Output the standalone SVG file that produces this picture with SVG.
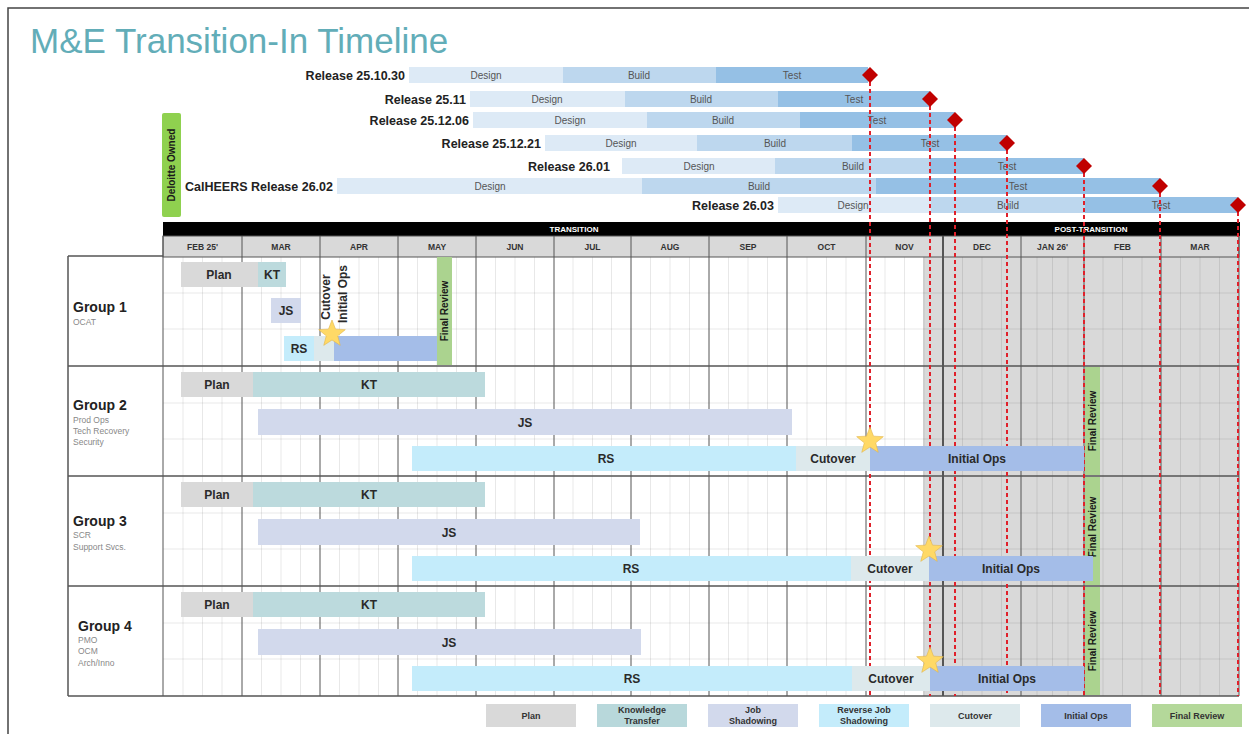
<svg xmlns="http://www.w3.org/2000/svg" width="1249" height="734" viewBox="0 0 1249 734">
<style>
.t{font-family:"Liberation Sans",Arial,sans-serif}
.rl{font-family:"Liberation Sans",Arial,sans-serif;font-size:12.5px;font-weight:bold;fill:#222;text-anchor:end}
.ph{font-family:"Liberation Sans",Arial,sans-serif;font-size:10px;fill:#555;text-anchor:middle}
.mo{font-family:"Liberation Sans",Arial,sans-serif;font-size:8.5px;font-weight:bold;fill:#333;text-anchor:middle}
.bl{font-family:"Liberation Sans",Arial,sans-serif;font-size:12px;font-weight:bold;fill:#2a2a2a;text-anchor:middle}
.vt{font-family:"Liberation Sans",Arial,sans-serif;font-size:10px;font-weight:bold;fill:#1a1a1a;text-anchor:middle}
.gt{font-family:"Liberation Sans",Arial,sans-serif;font-size:14px;font-weight:bold;fill:#222}
.gs{font-family:"Liberation Sans",Arial,sans-serif;font-size:8.5px;fill:#888}
.lg{font-family:"Liberation Sans",Arial,sans-serif;font-size:9px;font-weight:bold;fill:#333;text-anchor:middle}
.d{fill:#ddeaf6}.b{fill:#bdd7ee}.ts{fill:#95c0e5}
.plan{fill:#d9d9d9}.kt{fill:#bcdadd}.js{fill:#d2d9ec}.rs{fill:#c4ecfb}.cut{fill:#dde9ec}.io{fill:#a4bde8}.fr{fill:#abd38f}
.dia{fill:#c00000}
.red{stroke:#e0202a;stroke-width:2;stroke-dasharray:4 3;fill:none}
.sub{stroke:#000;stroke-opacity:0.09;stroke-width:1}
.mline{stroke:#555;stroke-width:1}
.star{fill:#ffd966;stroke:#e3b54a;stroke-width:0.6}
</style>
<defs>
<polygon id="star" points="0,-14 3.53,-4.85 13.32,-4.33 5.71,1.85 8.23,11.33 0,6 -8.23,11.33 -5.71,1.85 -13.32,-4.33 -3.53,-4.85"/>
</defs>
<rect width="1249" height="734" fill="#fff"/>
<path d="M8,734 V8 H1249" fill="none" stroke="#444" stroke-width="1.5"/>
<text x="30" y="53" class="t" font-size="35" fill="#62adb8">M&amp;E Transition-In Timeline</text>

<g id="deloitte-owned">
<rect x="162" y="113" width="19" height="104" rx="2" fill="#8fd14f"/>
<text class="vt" font-size="9" transform="translate(171.5,165) rotate(-90)" dy=".35em">Deloitte Owned</text>
</g>

<g id="releases">
<g id="r1"><text class="rl" x="405" y="79.5">Release 25.10.30</text>
<rect class="d" x="409" y="67" width="154" height="16"/><rect class="b" x="563" y="67" width="153" height="16"/><rect class="ts" x="716" y="67" width="152" height="16"/>
<text class="ph" x="486" y="79">Design</text><text class="ph" x="639" y="79">Build</text><text class="ph" x="792" y="79">Test</text></g>
<g id="r2"><text class="rl" x="466" y="103.5">Release 25.11</text>
<rect class="d" x="470" y="91" width="155" height="16"/><rect class="b" x="625" y="91" width="153" height="16"/><rect class="ts" x="778" y="91" width="152" height="16"/>
<text class="ph" x="547" y="103">Design</text><text class="ph" x="701" y="103">Build</text><text class="ph" x="854" y="103">Test</text></g>
<g id="r3"><text class="rl" x="469" y="124.5">Release 25.12.06</text>
<rect class="d" x="473" y="112" width="174" height="16"/><rect class="b" x="647" y="112" width="153" height="16"/><rect class="ts" x="800" y="112" width="155" height="16"/>
<text class="ph" x="570" y="124">Design</text><text class="ph" x="723" y="124">Build</text><text class="ph" x="877" y="124">Test</text></g>
<g id="r4"><text class="rl" x="541" y="147.5">Release 25.12.21</text>
<rect class="d" x="545" y="135" width="152" height="16"/><rect class="b" x="697" y="135" width="155" height="16"/><rect class="ts" x="852" y="135" width="155" height="16"/>
<text class="ph" x="621" y="147">Design</text><text class="ph" x="775" y="147">Build</text><text class="ph" x="930" y="147">Test</text></g>
<g id="r5"><text class="rl" x="610" y="170.5">Release 26.01</text>
<rect class="d" x="622" y="158" width="153" height="16"/><rect class="b" x="775" y="158" width="155" height="16"/><rect class="ts" x="930" y="158" width="154" height="16"/>
<text class="ph" x="699" y="170">Design</text><text class="ph" x="853" y="170">Build</text><text class="ph" x="1007" y="170">Test</text></g>
<g id="r6"><text class="rl" x="333" y="190.5">CalHEERS Release 26.02</text>
<rect class="d" x="337" y="178" width="305" height="16"/><rect class="b" x="642" y="178" width="234" height="16"/><rect class="ts" x="876" y="178" width="284" height="16"/>
<text class="ph" x="490" y="190">Design</text><text class="ph" x="759" y="190">Build</text><text class="ph" x="1018" y="190">Test</text></g>
<g id="r7"><text class="rl" x="774" y="209.5">Release 26.03</text>
<rect class="d" x="778" y="197" width="153" height="16"/><rect class="b" x="931" y="197" width="154" height="16"/><rect class="ts" x="1085" y="197" width="153" height="16"/>
<text class="ph" x="853" y="209">Design</text><text class="ph" x="1008" y="209">Build</text><text class="ph" x="1161" y="209">Test</text></g>
</g>

<g id="grid">
<rect x="923" y="257" width="316" height="439" fill="#d9d9d9"/>
<g class="sub">
<path d="M183,257V696M202.5,257V696M222,257V696M261.5,257V696M281,257V696M300.5,257V696M339.5,257V696M359,257V696M378.5,257V696M417.5,257V696M437,257V696M456.5,257V696M495.5,257V696M515,257V696M534.5,257V696M573,257V696M592.5,257V696M611.5,257V696M650.5,257V696M670,257V696M689.5,257V696M728.5,257V696M748,257V696M767.5,257V696M807,257V696M826.5,257V696M846,257V696M885,257V696M904.5,257V696M924,257V696M962.5,257V696M982,257V696M1001.5,257V696M1037,257V696M1052.5,257V696M1068,257V696M1103,257V696M1122.5,257V696M1142,257V696M1180.5,257V696M1200,257V696M1219.5,257V696"/>
<path d="M163,293H1239M163,329H1239M163,403H1239M163,439H1239M163,513H1239M163,549H1239M163,623H1239M163,659H1239"/>
</g>
<rect x="163" y="222" width="1077" height="14" fill="#000"/>
<text x="574" y="232" class="t" font-size="8" font-weight="bold" fill="#fff" text-anchor="middle">TRANSITION</text>
<text x="1091" y="232" class="t" font-size="8" font-weight="bold" fill="#fff" text-anchor="middle">POST-TRANSITION</text>
<rect x="163" y="236" width="1076" height="21" fill="#d9d9d9" stroke="#555"/>
<g class="mline">
<path d="M242,236V696M320,236V696M398,236V696M476,236V696M554,236V696M631,236V696M709,236V696M787,236V696M866,236V696M1021,236V696M1084,236V696M1161,236V696M1239,236V696M163,236V696"/>
</g>
<path d="M943,236V696" stroke="#555" stroke-width="2"/>
<path d="M68,256V696M68,256H163M68,366H1239M68,476H1239M68,586H1239M68,696H1239" stroke="#555" stroke-width="1.5" fill="none"/>
<text class="mo" x="202.5" y="250">FEB 25'</text><text class="mo" x="281" y="250">MAR</text><text class="mo" x="359" y="250">APR</text><text class="mo" x="437" y="250">MAY</text><text class="mo" x="515" y="250">JUN</text><text class="mo" x="592.5" y="250">JUL</text><text class="mo" x="670" y="250">AUG</text><text class="mo" x="748" y="250">SEP</text><text class="mo" x="826.5" y="250">OCT</text><text class="mo" x="904.5" y="250">NOV</text><text class="mo" x="982" y="250">DEC</text><text class="mo" x="1052.5" y="250">JAN 26'</text><text class="mo" x="1122.5" y="250">FEB</text><text class="mo" x="1200" y="250">MAR</text>
</g>

<g id="connectors">
<path class="red" d="M870,75V696"/><path class="red" d="M930,99V696"/><path class="red" d="M955,120V696"/><path class="red" d="M1007,143V696"/><path class="red" d="M1084,166V696"/><path class="red" d="M1160,186V696"/><path class="red" d="M1238,205V696"/>
<polygon class="dia" points="870,67 878,75 870,83 862,75"/>
<polygon class="dia" points="930,91 938,99 930,107 922,99"/>
<polygon class="dia" points="955,112 963,120 955,128 947,120"/>
<polygon class="dia" points="1007,135 1015,143 1007,151 999,143"/>
<polygon class="dia" points="1084,158 1092,166 1084,174 1076,166"/>
<polygon class="dia" points="1160,178 1168,186 1160,194 1152,186"/>
<polygon class="dia" points="1238,197 1246,205 1238,213 1230,205"/>
</g>

<g id="group1">
<text class="gt" x="73" y="312">Group 1</text>
<text class="gs" x="73" y="325">OCAT</text>
<rect class="plan" x="181" y="262" width="77" height="25"/><text class="bl" x="219" y="279">Plan</text>
<rect class="kt" x="258" y="262" width="28" height="25"/><text class="bl" x="272" y="279">KT</text>
<rect class="js" x="271" y="298" width="30" height="25"/><text class="bl" x="286" y="315">JS</text>
<rect class="rs" x="284" y="336" width="30" height="25"/><text class="bl" x="299" y="353">RS</text>
<rect class="cut" x="314" y="336" width="20" height="25"/>
<rect class="io" x="334" y="336" width="103" height="25"/>
<text class="bl" transform="translate(326,297) rotate(-90)" dy=".35em">Cutover</text>
<text class="bl" transform="translate(343,294) rotate(-90)" dy=".35em">Initial Ops</text>
<rect class="fr" x="437" y="257" width="15" height="108"/>
<text class="vt" transform="translate(444.5,311) rotate(-90)" dy=".35em">Final Review</text>
<use href="#star" class="star" x="332" y="334"/>
</g>

<g id="group2">
<text class="gt" x="73" y="410">Group 2</text>
<text class="gs" x="73" y="423">Prod Ops</text>
<text class="gs" x="73" y="434">Tech Recovery</text>
<text class="gs" x="73" y="445">Security</text>
<rect class="plan" x="181" y="372" width="72" height="25"/><text class="bl" x="217" y="389">Plan</text>
<rect class="kt" x="253" y="372" width="232" height="25"/><text class="bl" x="369" y="389">KT</text>
<rect class="js" x="258" y="409" width="534" height="26"/><text class="bl" x="525" y="427">JS</text>
<rect class="rs" x="412" y="446" width="384" height="25"/><text class="bl" x="606" y="463">RS</text>
<rect class="cut" x="796" y="446" width="74" height="25"/><text class="bl" x="833" y="463">Cutover</text>
<rect class="io" x="870" y="446" width="214" height="25"/><text class="bl" x="977" y="463">Initial Ops</text>
<rect class="fr" x="1085" y="367" width="15" height="108"/>
<text class="vt" transform="translate(1092.5,421) rotate(-90)" dy=".35em">Final Review</text>
<use href="#star" class="star" x="870" y="441"/>
</g>

<g id="group3">
<text class="gt" x="73" y="526">Group 3</text>
<text class="gs" x="73" y="538">SCR</text>
<text class="gs" x="73" y="550">Support Svcs.</text>
<rect class="plan" x="181" y="482" width="72" height="25"/><text class="bl" x="217" y="499">Plan</text>
<rect class="kt" x="253" y="482" width="232" height="25"/><text class="bl" x="369" y="499">KT</text>
<rect class="js" x="258" y="519" width="382" height="26"/><text class="bl" x="449" y="537">JS</text>
<rect class="fr" x="1085" y="477" width="15" height="108"/>
<text class="vt" transform="translate(1092.5,527) rotate(-90)" dy=".35em">Final Review</text>
<rect class="rs" x="412" y="556" width="439" height="25"/><text class="bl" x="631" y="573">RS</text>
<rect class="cut" x="851" y="556" width="78" height="25"/><text class="bl" x="890" y="573">Cutover</text>
<rect class="io" x="929" y="556" width="164" height="25"/><text class="bl" x="1011" y="573">Initial Ops</text>
<use href="#star" class="star" x="929" y="550"/>
</g>

<g id="group4">
<text class="gt" x="78" y="631">Group 4</text>
<text class="gs" x="78" y="643">PMO</text>
<text class="gs" x="78" y="654">OCM</text>
<text class="gs" x="78" y="666">Arch/Inno</text>
<rect class="plan" x="181" y="592" width="72" height="25"/><text class="bl" x="217" y="609">Plan</text>
<rect class="kt" x="253" y="592" width="232" height="25"/><text class="bl" x="369" y="609">KT</text>
<rect class="js" x="258" y="629" width="383" height="26"/><text class="bl" x="449" y="647">JS</text>
<rect class="rs" x="412" y="666" width="440" height="25"/><text class="bl" x="632" y="683">RS</text>
<rect class="cut" x="852" y="666" width="78" height="25"/><text class="bl" x="891" y="683">Cutover</text>
<rect class="io" x="930" y="666" width="154" height="25"/><text class="bl" x="1007" y="683">Initial Ops</text>
<rect class="fr" x="1085" y="587" width="15" height="108"/>
<text class="vt" transform="translate(1092.5,641) rotate(-90)" dy=".35em">Final Review</text>
<use href="#star" class="star" x="930" y="661"/>
</g>

<g id="legend">
<rect class="plan" x="486" y="704" width="90" height="23"/><text class="lg" x="531" y="719">Plan</text>
<rect fill="#b8d8db" x="597" y="704" width="90" height="23"/><text class="lg" x="642" y="713">Knowledge</text><text class="lg" x="642" y="724">Transfer</text>
<rect class="js" x="708" y="704" width="90" height="23"/><text class="lg" x="753" y="713">Job</text><text class="lg" x="753" y="724">Shadowing</text>
<rect class="rs" x="819" y="704" width="90" height="23"/><text class="lg" x="864" y="713">Reverse Job</text><text class="lg" x="864" y="724">Shadowing</text>
<rect class="cut" x="930" y="704" width="90" height="23"/><text class="lg" x="975" y="719">Cutover</text>
<rect class="io" x="1041" y="704" width="90" height="23"/><text class="lg" x="1086" y="719">Initial Ops</text>
<rect fill="#b4d89a" x="1152" y="704" width="90" height="23"/><text class="lg" x="1197" y="719">Final Review</text>
</g>
</svg>
